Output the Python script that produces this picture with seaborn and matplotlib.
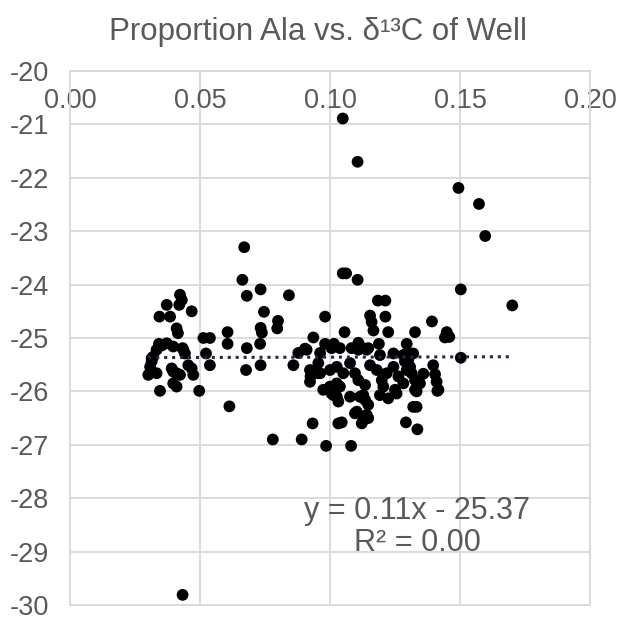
import numpy as np
import pandas as pd
import seaborn as sns
import matplotlib.pyplot as plt

# proportion Ala (x) and d13C (y)
prop_ala = [
    0.0423, 0.0430, 0.0420, 0.0372, 0.0344, 0.0385, 0.0468, 0.0410, 0.0415, 0.0342,
    0.0353, 0.0397, 0.0433, 0.0333, 0.0442, 0.0314, 0.0372, 0.0320, 0.0314, 0.0308,
    0.0301, 0.0333, 0.0346, 0.0391, 0.0397, 0.0410, 0.0423, 0.0397, 0.0410, 0.0455,
    0.0468, 0.0474, 0.0497, 0.0433, 0.0436, 0.0513, 0.0538, 0.0523, 0.0538, 0.0606,
    0.0606, 0.0613, 0.0670, 0.0663, 0.0680, 0.0733, 0.0842, 0.0746, 0.0800, 0.0797,
    0.0733, 0.0738, 0.0731, 0.0680, 0.0677, 0.0733, 0.0780, 0.0859, 0.0878, 0.0904,
    0.0923, 0.0925, 0.0923, 0.0933, 0.0891, 0.0936, 0.0981, 0.0981, 0.1015, 0.0955,
    0.0955, 0.0974, 0.1006, 0.1026, 0.0985, 0.1032, 0.1045, 0.1049, 0.1106, 0.1494,
    0.1573, 0.1597, 0.1049, 0.1062, 0.1106, 0.1503, 0.1701, 0.1184, 0.1213, 0.1154,
    0.1160, 0.1167, 0.1213, 0.1056, 0.1224, 0.1327, 0.1392, 0.1449, 0.1459, 0.1442,
    0.1109, 0.1083, 0.1147, 0.1128, 0.1188, 0.1295, 0.1295, 0.1503, 0.1397, 0.1404,
    0.1410, 0.1413, 0.1359, 0.1346, 0.1333, 0.1320, 0.1333, 0.1292, 0.1336, 0.1081,
    0.1122, 0.1147, 0.1103, 0.1128, 0.1147, 0.1135, 0.1115, 0.1032, 0.1013, 0.1192,
    0.1224, 0.1256, 0.0962, 0.1000, 0.1026, 0.1051, 0.1077, 0.1096, 0.1109, 0.1135,
    0.1154, 0.1180, 0.1199, 0.1218, 0.1244, 0.1263, 0.1282, 0.1295, 0.1026, 0.1000,
    0.0962, 0.1006, 0.1038, 0.1109, 0.1141, 0.1192, 0.1244, 0.1282, 0.1320, 0.1038,
    0.1077, 0.1128, 0.1205, 0.1250, 0.1141, 0.1288, 0.1301, 0.1308, 0.1314, 0.1327,
    0.1327, 0.1417, 0.0910, 0.1096,
]
d13c = [
    -24.19, -24.29, -24.38, -24.38, -24.60, -24.60, -24.50, -24.82, -24.91, -25.11,
    -25.14, -25.16, -25.19, -25.22, -25.29, -25.38, -25.10, -25.35, -25.44, -25.54,
    -25.69, -25.66, -25.99, -25.57, -25.63, -25.66, -25.69, -25.85, -25.91, -25.51,
    -25.57, -25.69, -25.99, -29.81, -25.22, -25.00, -25.00, -25.29, -25.51, -24.89,
    -25.11, -26.28, -23.30, -23.91, -24.21, -24.09, -24.20, -24.51, -24.68, -24.82,
    -24.81, -24.90, -25.11, -25.19, -25.60, -25.51, -26.90, -25.51, -25.28, -25.20,
    -25.60, -25.72, -25.82, -26.60, -26.90, -24.99, -24.60, -25.11, -25.11, -25.47,
    -25.66, -25.97, -26.04, -26.10, -27.02, -26.60, -26.58, -20.89, -21.70, -22.19,
    -22.49, -23.09, -23.79, -23.79, -23.91, -24.09, -24.39, -24.30, -24.30, -24.58,
    -24.70, -24.86, -24.60, -24.89, -24.89, -24.89, -24.69, -24.89, -24.98, -24.99,
    -25.09, -25.19, -25.19, -25.19, -25.11, -25.11, -25.29, -25.37, -25.51, -25.68,
    -25.82, -25.99, -25.67, -25.85, -26.00, -26.29, -26.29, -26.58, -26.71, -27.02,
    -26.60, -26.50, -26.38, -26.54, -26.25, -26.16, -26.10, -26.19, -26.07, -26.07,
    -26.13, -26.04, -25.66, -25.60, -25.54, -25.66, -25.47, -25.66, -25.79, -25.88,
    -25.51, -25.60, -25.79, -25.66, -25.54, -25.72, -25.85, -25.60, -25.85, -25.91,
    -25.28, -25.19, -25.19, -25.22, -25.22, -25.32, -25.29, -25.32, -25.29, -25.91,
    -26.10, -26.07, -25.91, -25.97, -26.44, -25.44, -25.41, -25.54, -25.66, -25.79,
    -25.97, -25.97, -25.22, -26.41,
]

slope = 0.11
intercept = -25.37
r2 = 0.00

x_ticks = [0.00, 0.05, 0.10, 0.15, 0.20]
y_ticks = [-20, -21, -22, -23, -24, -25, -26, -27, -28, -29, -30]

df = pd.DataFrame({"prop": prop_ala, "d13c": d13c})

sns.set_style("white")
plt.rcParams['font.family'] = ['Liberation Sans', 'DejaVu Sans']

grey = '#595959'
grid = '#d9d9d9'

fig = plt.figure(figsize=(6.18, 6.20), dpi=100)
ax = fig.add_axes([0.1133, 0.0242, 0.8414, 0.8613])

sns.scatterplot(data=df, x="prop", y="d13c", color='black', s=72,
                edgecolor='none', ax=ax, zorder=3)

# linear trendline over the data range
xs = np.array([min(prop_ala), max(prop_ala)])
ax.plot(xs, slope * xs + intercept, linestyle=(0, (1, 1.6)), color='#1f2a44',
        linewidth=2.2, zorder=4)

ax.set_xlim(0, 0.2)
ax.set_ylim(-30, -20)
ax.set_xticks(x_ticks)
ax.set_yticks(y_ticks)
ax.set_xticklabels([f"{t:.2f}" for t in x_ticks])
ax.set_yticklabels([str(t) for t in y_ticks])
ax.xaxis.tick_top()
ax.tick_params(axis='x', length=0, pad=-31, labelsize=19.5, labelcolor=grey)
ax.tick_params(axis='y', length=0, pad=15, labelsize=19.5, labelcolor=grey)
ax.grid(True, color=grid, linewidth=1.3)
ax.set_axisbelow(True)
for sp in ax.spines.values():
    sp.set_color(grid)
    sp.set_linewidth(1.3)
ax.set_xlabel('')
ax.set_ylabel('')

ax.text(0.1335, -28.54, f"y = {slope:.2f}x - {abs(intercept):.2f}\nR² = {r2:.2f}",
        ha='center', va='center', fontsize=22, color=grey,
        multialignment='center', linespacing=1.1)

ax.set_title("Proportion Ala vs. δ¹³C of Well", fontsize=22.5, color=grey,
             pad=22, x=0.477)

plt.savefig('out.png', dpi=100)
